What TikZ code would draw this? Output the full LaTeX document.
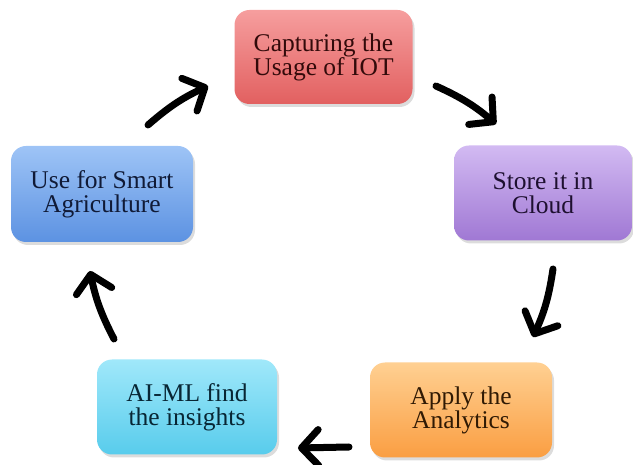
\documentclass[tikz,border=0pt]{standalone}
\usepackage{fontspec}
\setmainfont{Liberation Serif}
\usetikzlibrary{arrows.meta,shadows}
\definecolor{redT}{RGB}{246,158,158}\definecolor{redB}{RGB}{226,96,96}\definecolor{redX}{RGB}{50,10,10}
\definecolor{purT}{RGB}{210,186,242}\definecolor{purB}{RGB}{160,120,212}\definecolor{purX}{RGB}{30,16,48}
\definecolor{bluT}{RGB}{158,196,246}\definecolor{bluB}{RGB}{92,146,226}\definecolor{bluX}{RGB}{16,26,54}
\definecolor{oraT}{RGB}{255,208,146}\definecolor{oraB}{RGB}{250,158,66}\definecolor{oraX}{RGB}{48,26,4}
\definecolor{cyaT}{RGB}{160,232,250}\definecolor{cyaB}{RGB}{88,204,236}\definecolor{cyaX}{RGB}{8,38,52}
\tikzset{
  stepbox/.style={rounded corners=15pt, align=center, inner sep=0pt,
    font=\fontsize{25.5}{24}\selectfont,
    drop shadow={shadow xshift=2pt, shadow yshift=-3pt, opacity=0.28}},
  cyc/.style={line width=7pt, line cap=round, bend left=8,
    -{Straight Barb[length=17pt,width=36pt,round]}}
}
\begin{document}
\begin{tikzpicture}[x=1pt,y=-1pt]
\useasboundingbox (0,0) rectangle (633,465);
\node[stepbox, minimum width=178pt, minimum height=94pt, top color=redT, bottom color=redB, text=redX]
  (cap) at (323.5,57) {Capturing the\\Usage of IOT};
\node[stepbox, minimum width=178pt, minimum height=95pt, top color=purT, bottom color=purB, text=purX]
  (sto) at (543,193) {Store it in\\Cloud};
\node[stepbox, minimum width=182pt, minimum height=95pt, top color=oraT, bottom color=oraB, text=oraX]
  (app) at (461,410) {Apply the\\Analytics};
\node[stepbox, minimum width=180pt, minimum height=95pt, top color=cyaT, bottom color=cyaB, text=cyaX]
  (aim) at (187,407) {AI-ML find\\the insights};
\node[stepbox, minimum width=182pt, minimum height=96pt, top color=bluT, bottom color=bluB, text=bluX]
  (use) at (102,194) {Use for Smart\\Agriculture};
\coordinate (a1s) at (148,125); \coordinate (a1e) at (208,86);
\coordinate (a2s) at (436,86);  \coordinate (a2e) at (496,124);
\coordinate (a3s) at (553,269); \coordinate (a3e) at (533,337);
\coordinate (a4s) at (349,447); \coordinate (a4e) at (298,448);
\coordinate (a5s) at (114,339); \coordinate (a5e) at (90,271);
\draw[cyc] (a1s) to (a1e);
\draw[cyc] (a2s) to (a2e);
\draw[cyc] (a3s) to (a3e);
\draw[cyc, bend left=0] (a4s) to (a4e);
\draw[cyc] (a5s) to (a5e);
\end{tikzpicture}
\end{document}
